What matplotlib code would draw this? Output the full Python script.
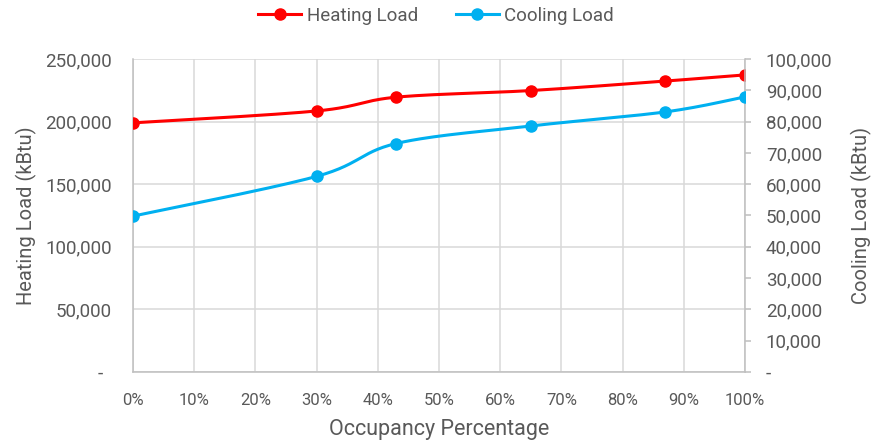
import numpy as np
import matplotlib
matplotlib.use("Agg")
import matplotlib.pyplot as plt
from matplotlib.ticker import FuncFormatter, MultipleLocator

# occupancy (%) and annual loads (kBtu)
occupancy = [0, 30, 43, 65, 87, 100]
heating_load = [199000, 208500, 219500, 224800, 232400, 237300]
cooling_load = [49800, 62500, 73000, 78600, 83100, 87900]

x_ticks = list(range(0, 101, 10))

RED = "#FF0000"
BLUE = "#00B0F0"
TEXT = "#595959"
GRID = "#D9D9D9"
AXIS = "#BFBFBF"

plt.rcParams["font.family"] = ["Roboto", "DejaVu Sans"]


def smooth(x, y, steps=30):
    # Excel-style smoothed line: cubic Bezier with Catmull-Rom control points
    x = np.asarray(x, float)
    y = np.asarray(y, float)
    px = np.concatenate(([x[0]], x, [x[-1]]))
    py = np.concatenate(([y[0]], y, [y[-1]]))
    t = np.linspace(0, 1, steps)[:, None]
    xs, ys = [], []
    for i in range(1, len(px) - 2):
        p0 = np.array([px[i], py[i]])
        p3 = np.array([px[i + 1], py[i + 1]])
        c1 = p0 + (p3 - np.array([px[i - 1], py[i - 1]])) / 6
        c2 = p3 - (np.array([px[i + 2], py[i + 2]]) - p0) / 6
        seg = ((1 - t) ** 3 * p0 + 3 * (1 - t) ** 2 * t * c1
               + 3 * (1 - t) * t ** 2 * c2 + t ** 3 * p3)
        xs.append(seg[:, 0])
        ys.append(seg[:, 1])
    return np.concatenate(xs), np.concatenate(ys)


def fmt_left(v, pos):
    return "-  " if v == 0 else "{:,.0f}".format(v)


def fmt_right(v, pos):
    return "-" if v == 0 else "{:,.0f}".format(v)


fig = plt.figure(figsize=(8.72, 4.45), dpi=100)
ax = fig.add_axes([133 / 872, 1 - 372 / 445, (745 - 133) / 872, (372 - 59) / 445])
ax2 = ax.twinx()

ax.set_xlim(0, 100)
ax.set_ylim(0, 250000)
ax2.set_ylim(0, 100000)

ax.set_xticks(x_ticks)
ax.xaxis.set_major_formatter(FuncFormatter(lambda v, p: "{:.0f}%".format(v)))
ax.yaxis.set_major_locator(MultipleLocator(50000))
ax.yaxis.set_major_formatter(FuncFormatter(fmt_left))
ax2.yaxis.set_major_locator(MultipleLocator(10000))
ax2.yaxis.set_major_formatter(FuncFormatter(fmt_right))

ax.grid(True, color=GRID, linewidth=1.1)
ax.set_axisbelow(True)
for s in ["top", "right"]:
    ax.spines[s].set_visible(False)
for s in ["top", "left", "bottom"]:
    ax2.spines[s].set_visible(False)
for s in ["left", "bottom"]:
    ax.spines[s].set_color(AXIS)
    ax.spines[s].set_linewidth(1.1)
ax2.spines["right"].set_color(AXIS)
ax2.spines["right"].set_linewidth(1.1)

ax.tick_params(axis="both", length=0, colors=TEXT)
ax.tick_params(axis="x", pad=15, labelsize=12)
ax.tick_params(axis="y", pad=15, labelsize=13.5)
ax2.tick_params(axis="y", length=4, width=1.1, color=AXIS, pad=11,
                labelsize=13.5, labelcolor=TEXT)

hx, hy = smooth(occupancy, heating_load)
cx, cy = smooth(occupancy, cooling_load)
ax.plot(hx, hy, color=RED, linewidth=2.2, zorder=3)
ax.plot(occupancy, heating_load, "o", color=RED, markersize=8, zorder=4)
ax2.plot(cx, cy, color=BLUE, linewidth=2.2, zorder=3)
ax2.plot(occupancy, cooling_load, "o", color=BLUE, markersize=8, zorder=4)

ax.set_xlabel("Occupancy Percentage", fontsize=15.5, color=TEXT, labelpad=8)
ax.set_ylabel("Heating Load (kBtu)", fontsize=14.5, color=TEXT, labelpad=6)
ax2.set_ylabel("Cooling Load (kBtu)", fontsize=14.5, color=TEXT, labelpad=13)

handles = [
    plt.Line2D([], [], color=RED, linewidth=2.2, marker="o", markersize=8),
    plt.Line2D([], [], color=BLUE, linewidth=2.2, marker="o", markersize=8),
]
fig.legend(handles, ["Heating Load", "Cooling Load"], loc="center",
           bbox_to_anchor=(0.5, 1 - 16 / 445), ncol=2, frameon=False,
           fontsize=13.5, labelcolor=TEXT, handlelength=2.3, columnspacing=2.0,
           handletextpad=0.3)

fig.savefig("out.png", dpi=100)
